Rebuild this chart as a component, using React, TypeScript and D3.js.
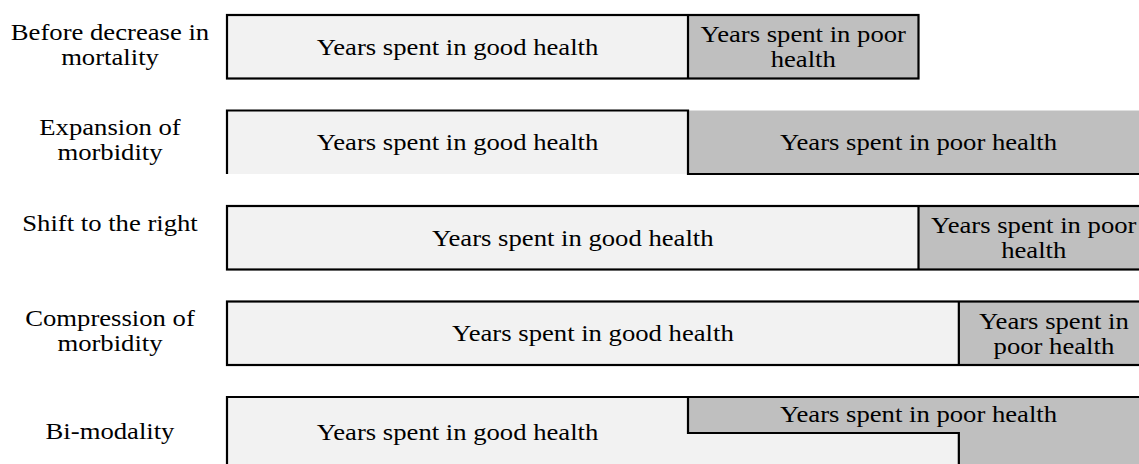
import React, { useEffect } from "react";
import * as d3 from "d3";

// scenario labels (one entry per line)
const scenarioLabels: string[][] = [
  ["Before decrease in", "mortality"],
  ["Expansion of", "morbidity"],
  ["Shift to the right"],
  ["Compression of", "morbidity"],
  ["Bi-modality"],
];

// years spent in good health, then total life length (arbitrary year units)
const goodYears = [40, 40, 60, 63.5, 40];
const totalYears = [60, 80, 80, 80, 80];
// bi-modality: the part of the population that stays healthy longer
const bimodalGoodYears = 63.5;

const goodText = "Years spent in good health";
const poorLines: string[][] = [
  ["Years spent in poor", "health"],
  ["Years spent in poor health"],
  ["Years spent in poor", "health"],
  ["Years spent in", "poor health"],
  ["Years spent in poor health"],
];

const WIDTH = 1139;
const HEIGHT = 464;
const FONT = "'Liberation Serif', 'Times New Roman', serif";
const GOOD_FILL = "#f2f2f2";
const POOR_FILL = "#bfbfbf";

export default function App() {
  useEffect(() => {
    document.body.style.margin = "0";
  }, []);

  const x = d3.scaleLinear().domain([0, 40]).range([227, 688]);
  const y = d3
    .scaleLinear()
    .domain([0, scenarioLabels.length - 1])
    .range([15, 397]);
  const rowH = 63.5;
  const fs = 23;
  const stretch = 1.16; // the source figure's text is a little wide
  const lineH = 25;

  const line = d3.line<[number, number]>();

  const multiText = (lines: string[], cx: number, cy: number, key: string) => (
    <text
      key={key}
      transform={`translate(${cx},${cy}) scale(${stretch},1)`}
      textAnchor="middle"
      fontFamily={FONT}
      fontSize={fs}
      fill="#000"
    >
      {lines.map((l, i) => (
        <tspan
          key={i}
          x={0}
          y={(i - (lines.length - 1) / 2) * lineH + fs * 0.34}
        >
          {l}
        </tspan>
      ))}
    </text>
  );

  return (
    <svg width={WIDTH} height={HEIGHT} style={{ display: "block" }}>
      <rect width={WIDTH} height={HEIGHT} fill="#fff" />
      {scenarioLabels.map((lab, i) => {
        const top = y(i);
        const x0 = x(0);
        const xg = x(goodYears[i]);
        const xe = x(totalYears[i]);
        const last = i === scenarioLabels.length - 1;
        const bottom = last ? HEIGHT + 4 : top + rowH;
        const labelY = last ? top + 34 : top + 17 + ((lab.length - 1) * lineH) / 2;

        if (last) {
          // bi-modality: stepped split between good and poor health
          const step = top + 36;
          const xb = x(bimodalGoodYears);
          const goodPoly: [number, number][] = [
            [x0, top], [xg, top], [xg, step], [xb, step], [xb, bottom], [x0, bottom],
          ];
          const poorPoly: [number, number][] = [
            [xg, top], [xe, top], [xe, bottom], [xb, bottom], [xb, step], [xg, step],
          ];
          return (
            <g key={i}>
              <path d={line(goodPoly) + "Z"} fill={GOOD_FILL} />
              <path d={line(poorPoly) + "Z"} fill={POOR_FILL} />
              <path
                d={line([[x0, bottom], [x0, top], [xe, top]]) ?? ""}
                fill="none"
                stroke="#000"
                strokeWidth={2.2}
              />
              <path
                d={line([[xg, top], [xg, step], [xb, step], [xb, bottom]]) ?? ""}
                fill="none"
                stroke="#000"
                strokeWidth={2.2}
              />
              {multiText(lab, 110, labelY, "l")}
              {multiText([goodText], (x0 + xg) / 2, top + 35, "g")}
              {multiText(poorLines[i], (xg + xe) / 2, top + 17, "p")}
            </g>
          );
        }

        // expansion of morbidity row is drawn with some edges missing
        const open = i === 1;
        return (
          <g key={i}>
            <rect x={x0} y={top} width={xg - x0} height={rowH} fill={GOOD_FILL} />
            <rect x={xg} y={top} width={xe - xg} height={rowH} fill={POOR_FILL} />
            {open ? (
              <path
                d={line([[x0, bottom], [x0, top], [xg, top], [xg, bottom], [xe, bottom]]) ?? ""}
                fill="none"
                stroke="#000"
                strokeWidth={2.2}
              />
            ) : (
              <>
                <rect
                  x={x0}
                  y={top}
                  width={xe - x0}
                  height={rowH}
                  fill="none"
                  stroke="#000"
                  strokeWidth={2.2}
                />
                <path
                  d={line([[xg, top], [xg, bottom]]) ?? ""}
                  stroke="#000"
                  strokeWidth={2.2}
                />
              </>
            )}
            {multiText(lab, 110, labelY, "l")}
            {multiText([goodText], (x0 + xg) / 2, top + rowH / 2, "g")}
            {multiText(poorLines[i], (xg + xe) / 2, top + rowH / 2, "p")}
          </g>
        );
      })}
    </svg>
  );
}
